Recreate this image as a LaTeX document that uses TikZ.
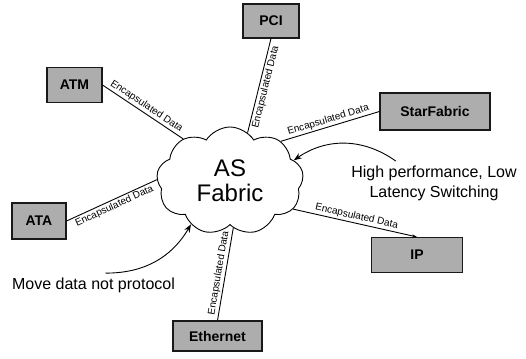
\documentclass[tikz,border=0pt]{standalone}
\usepackage{fontspec}
\setmainfont{Liberation Sans}
\usetikzlibrary{shapes.symbols,arrows.meta}

\tikzset{
  box/.style={draw=black!90,line width=1.1pt,fill=black!32,minimum height=35pt,inner sep=0pt,font=\fontsize{14}{16}\selectfont\bfseries},
  encap/.style={sloped,font=\fontsize{10}{12}\selectfont,inner sep=1.5pt},
  note/.style={align=center,inner sep=0pt,font=\fontsize{16}{20}\selectfont},
}

\begin{document}
\begin{tikzpicture}[x=1pt,y=-1pt,line width=0.9pt]
\useasboundingbox (0,0) rectangle (526,358);
% the fabric in the middle
\node[cloud,cloud puffs=9,cloud puff arc=115,aspect=1.36,draw,minimum width=147pt,minimum height=108pt,inner sep=0pt,align=center,font=\fontsize{24}{25}\selectfont] (fabric) at (230,181) {AS\\Fabric};

% protocols round it
\node[box,minimum width=55pt] (atm) at (74.5,85) {ATM};
\node[box,minimum width=56pt,minimum height=34pt] (pci) at (271,21) {PCI};
\node[box,minimum width=110pt,minimum height=37pt] (star) at (435,111.5) {StarFabric};
\node[box,minimum width=54pt,minimum height=36pt] (ata) at (39,221) {ATA};
\node[box,minimum width=89pt,minimum height=30pt] (eth) at (217.5,336) {Ethernet};
\node[box,minimum width=91pt] (ip) at (417,255) {IP};

\draw (atm.east) -- node[encap,above]{Encapsulated Data} (fabric.138);
\draw (pci.south) -- node[encap,below]{Encapsulated Data} (fabric.70);
\draw (star.west) -- node[encap,above]{Encapsulated Data} (fabric.38);
\draw[-{Stealth[length=5pt,width=3pt]}] (fabric.-24) -- node[encap,above]{Encapsulated Data} (ip.north);
\draw (ata.east) -- node[encap,below]{Encapsulated Data} (fabric.179);
\draw (eth.north) -- node[encap,above]{Encapsulated Data} (fabric.-86);

% notes
\node[note] (perf) at (434,183) {High performance, Low\\Latency Switching};
\node[note] (move) at (93.5,285) {Move data not protocol};
\draw[-{Stealth[length=8pt,width=6pt]}] ([xshift=45pt,yshift=4pt]perf.north west) to[bend right=35] (fabric.18);
\draw[-{Stealth[length=8pt,width=6pt]}] ([xshift=12pt,yshift=4pt]move.north) to[bend right=30] (fabric.-132);
\end{tikzpicture}
\end{document}
